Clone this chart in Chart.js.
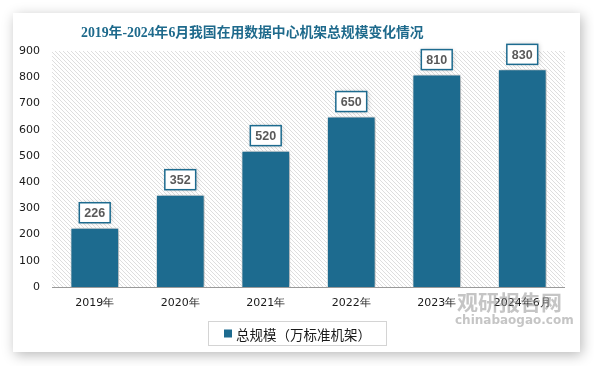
<!DOCTYPE html>
<html>
<head>
<meta charset="utf-8">
<script src="https://cdn.jsdelivr.net/npm/chart.js@4.4.1/dist/chart.umd.min.js"></script>
<style>
    html, body { margin: 0; padding: 0; background: #ffffff; }
    body { width: 594px; height: 366px; position: relative; overflow: hidden; }
    #card {
        position: absolute; left: 13px; top: 13px; width: 567px; height: 339px;
        background: #ffffff;
        box-shadow: 2px 3px 12px rgba(0, 0, 0, 0.28);
    }
    #card canvas { display: block; }
</style>
</head>
<body>
<div id="card"><canvas id="rackChart" width="567" height="339"></canvas></div>
<script>
// chart data
const chartTitle = "2019年-2024年6月我国在用数据中心机架总规模变化情况";
const categories = ["2019年", "2020年", "2021年", "2022年", "2023年", "2024年6月"];
const rackTotals = [226, 352, 520, 650, 810, 830];
const seriesName = "总规模（万标准机架）";
const yTicks = [0, 100, 200, 300, 400, 500, 600, 700, 800, 900];

const barColor = "#1d6b8f";
const titleColor = "#1e6a8c";

// diagonal hatch for the plot background
function makeHatch(ctx) {
    const c = document.createElement("canvas");
    c.width = 4; c.height = 4;
    const p = c.getContext("2d");
    p.strokeStyle = "#dedede";
    p.lineWidth = 1;
    p.beginPath();
    p.moveTo(-1, -1); p.lineTo(5, 5);
    p.moveTo(-1, 3); p.lineTo(1, 5);
    p.moveTo(3, -1); p.lineTo(5, 1);
    p.stroke();
    return ctx.createPattern(c, "repeat");
}

const decorPlugin = {
    id: "decor",
    beforeDatasetsDraw(chart) {
        const { ctx, chartArea: a } = chart;
        ctx.save();
        ctx.fillStyle = makeHatch(ctx);
        ctx.fillRect(a.left, a.top, a.right - a.left, a.bottom - a.top);
        // axis line
        ctx.strokeStyle = "#9a9a9a";
        ctx.lineWidth = 1;
        ctx.beginPath();
        ctx.moveTo(a.left, a.bottom + 0.5);
        ctx.lineTo(a.right, a.bottom + 0.5);
        ctx.stroke();
        ctx.restore();
        // soft shadow under bars
        ctx.save();
        ctx.shadowColor = "rgba(0,0,0,0.35)";
        ctx.shadowBlur = 6;
        ctx.shadowOffsetX = 2;
        ctx.shadowOffsetY = 0;
    },
    afterDatasetsDraw(chart) {
        const { ctx } = chart;
        ctx.restore();
        // value labels in framed boxes
        const meta = chart.getDatasetMeta(0);
        ctx.save();
        ctx.font = "bold 12.5px 'Liberation Sans', Arial, sans-serif";
        ctx.textAlign = "center";
        ctx.textBaseline = "middle";
        meta.data.forEach((bar, i) => {
            const txt = String(rackTotals[i]);
            const w = ctx.measureText(txt).width + 10;
            const h = 20;
            const x = bar.x - w / 2;
            const y = bar.y - 5 - h;
            ctx.shadowColor = "rgba(0,0,0,0.25)";
            ctx.shadowBlur = 5;
            ctx.shadowOffsetX = 1;
            ctx.fillStyle = "#ffffff";
            ctx.fillRect(x, y, w, h);
            ctx.shadowColor = "transparent";
            ctx.strokeStyle = barColor;
            ctx.lineWidth = 1.5;
            ctx.strokeRect(x, y, w, h);
            ctx.fillStyle = "#595959";
            ctx.fillText(txt, bar.x, y + h / 2 + 1);
        });
        ctx.restore();
    },
    afterDraw(chart) {
        const { ctx, width } = chart;
        ctx.save();
        // title
        ctx.fillStyle = titleColor;
        ctx.font = "bold 13.8px 'Liberation Serif', 'Noto Sans CJK SC', serif";
        ctx.textAlign = "left";
        ctx.textBaseline = "middle";
        ctx.fillText(chartTitle, 68, 20);

        // watermark
        ctx.globalAlpha = 0.5;
        ctx.fillStyle = "#8c8c8c";
        ctx.textAlign = "left";
        ctx.font = "bold 21px 'Noto Sans CJK SC', sans-serif";
        ctx.fillText("观研报告网", 444, 289);
        ctx.font = "bold 12px 'DejaVu Sans', sans-serif";
        ctx.fillText("chinabaogao.com", 442, 308);
        ctx.globalAlpha = 1;

        // legend with frame
        ctx.font = "13.5px 'Noto Sans CJK SC', sans-serif";
        const tw = ctx.measureText(seriesName).width;
        const boxW = 178, boxH = 24;
        const bx = Math.round(width / 2 - boxW / 2) + 0.5;
        const by = 308.5;
        ctx.strokeStyle = "#d4d4d4";
        ctx.lineWidth = 1;
        ctx.strokeRect(bx, by, boxW, boxH);
        const startX = bx + (boxW - (tw + 12)) / 2;
        ctx.fillStyle = barColor;
        ctx.fillRect(startX, by + 8, 8, 8);
        ctx.fillStyle = "#1a1a1a";
        ctx.textBaseline = "middle";
        ctx.fillText(seriesName, startX + 12, by + boxH / 2 + 1);
        ctx.restore();
    }
};

const ctx = document.getElementById("rackChart").getContext("2d");
const rackChart = new Chart(ctx, {
    type: "bar",
    data: {
        labels: categories,
        datasets: [{
            label: seriesName,
            data: rackTotals,
            backgroundColor: barColor,
            borderColor: "#ffffff",
            borderWidth: 1,
            categoryPercentage: 1,
            barPercentage: 0.57
        }]
    },
    options: {
        responsive: false,
        animation: false,
        devicePixelRatio: 1,
        layout: { padding: { left: 0, right: 15, top: 38, bottom: 35 } },
        plugins: {
            legend: { display: false },
            title: { display: false },
            tooltip: { enabled: false }
        },
        scales: {
            x: {
                grid: { display: false, drawTicks: false },
                border: { display: false },
                ticks: {
                    padding: 10,
                    color: "#1a1a1a",
                    font: { family: "'DejaVu Sans', sans-serif", size: 11 }
                },
                afterFit(scale) { scale.height = 30; }
            },
            y: {
                min: 0,
                max: 900,
                grid: { display: false, drawTicks: false },
                border: { display: false },
                afterBuildTicks(scale) { scale.ticks = yTicks.map(v => ({ value: v })); },
                ticks: {
                    padding: 12,
                    color: "#1a1a1a",
                    font: { family: "'DejaVu Sans', sans-serif", size: 11 }
                },
                afterFit(scale) { scale.width = 39; }
            }
        }
    },
    plugins: [decorPlugin]
});
</script>
</body>
</html>
